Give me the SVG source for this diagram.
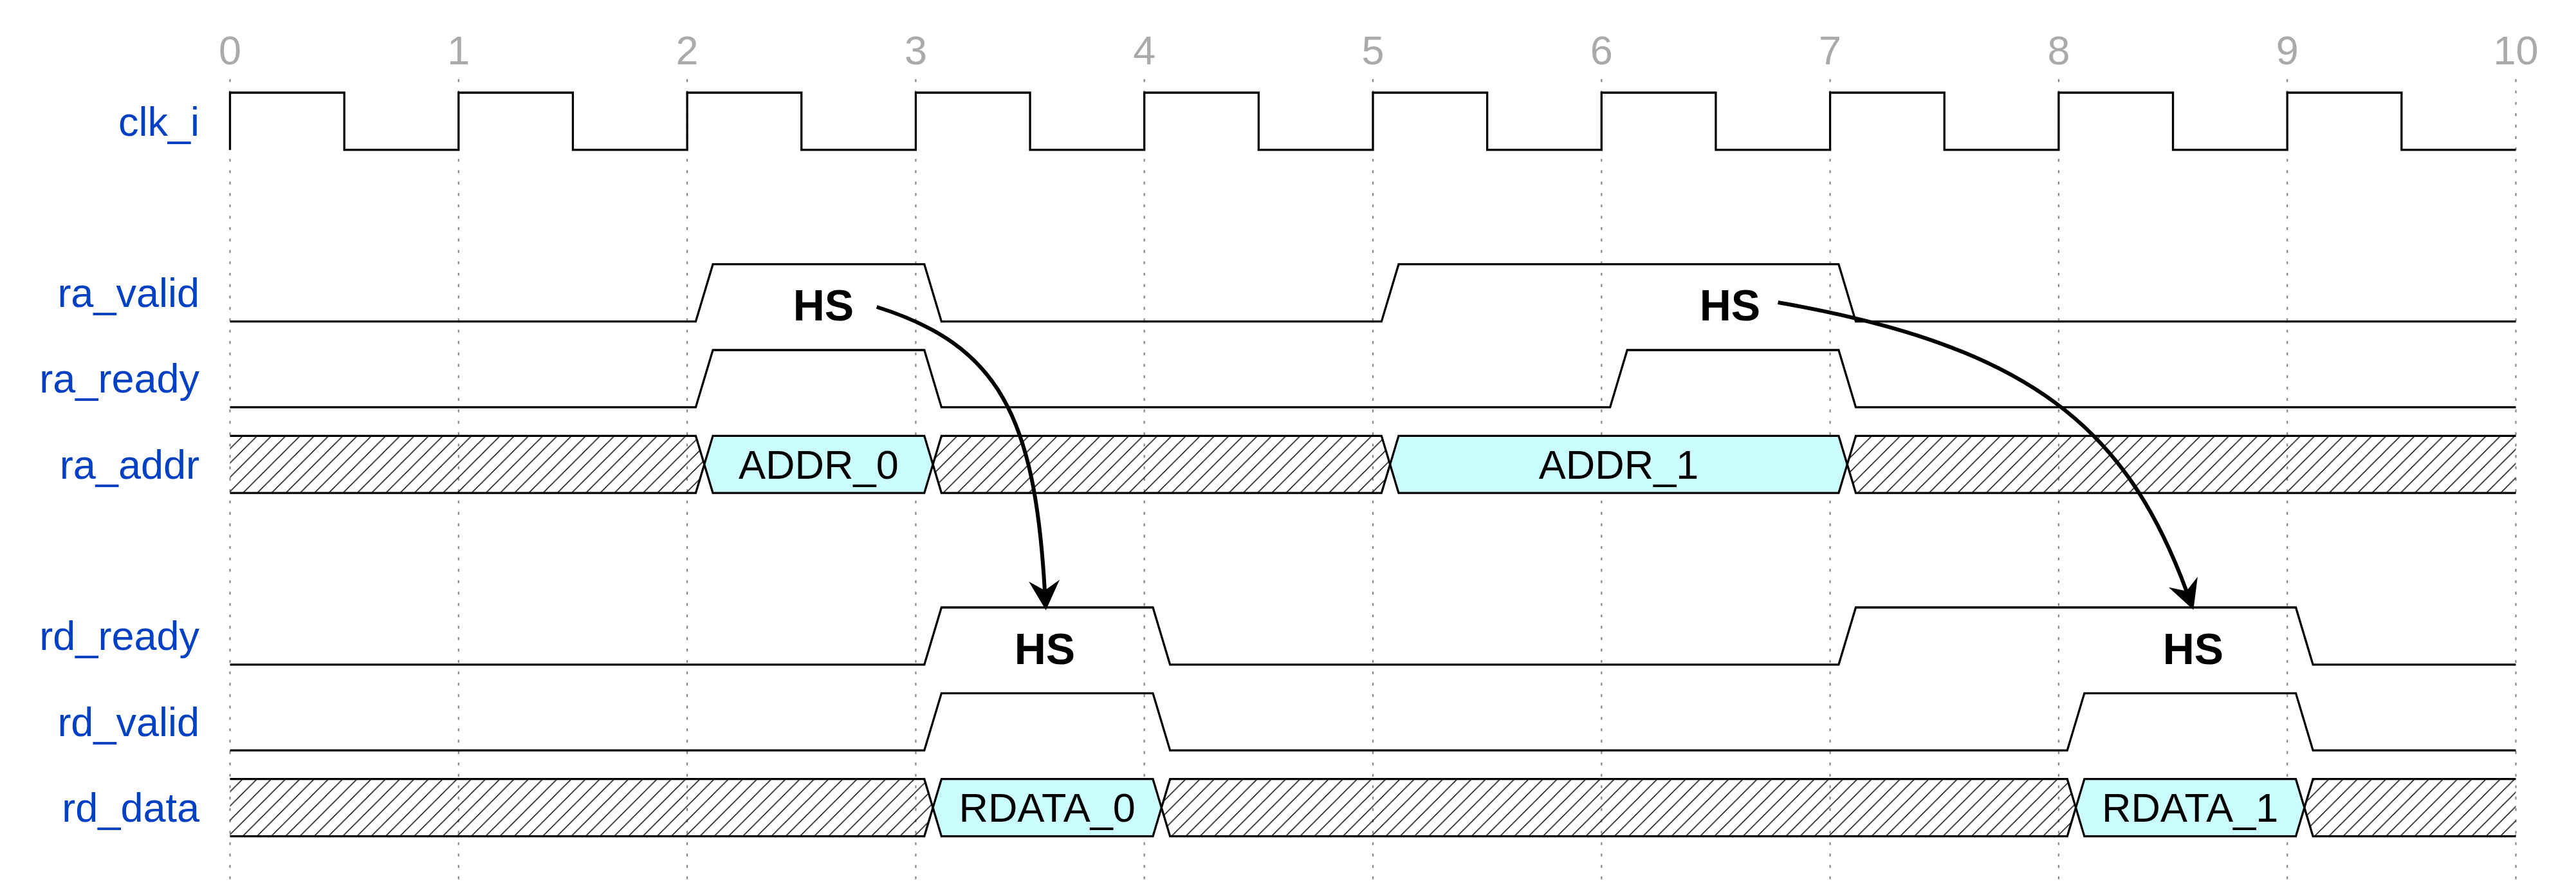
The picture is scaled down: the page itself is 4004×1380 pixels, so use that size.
<svg xmlns="http://www.w3.org/2000/svg" width="4004" height="1380" viewBox="0 0 4004 1380">
<style>
.bg{fill:#ffffff}
.grid{stroke:#888888;stroke-width:2.2;stroke-dasharray:4.4 13.3;fill:none}
.tick{font-family:"Liberation Sans",Arial,sans-serif;font-size:63px;fill:#aaaaaa;text-anchor:middle}
.name{font-family:"Liberation Sans",Arial,sans-serif;font-size:63px;fill:#0041c4;text-anchor:end}
.wave{fill:none;stroke:#000000;stroke-width:3.3;stroke-linejoin:miter}
.hatch{fill:url(#xpat);stroke:none}
.data{fill:#ccfdfe;stroke:#000000;stroke-width:3.3}
.dtext{font-family:"Liberation Sans",Arial,sans-serif;font-size:63px;fill:#000000;text-anchor:middle}
.hs{font-family:"Liberation Sans",Arial,sans-serif;font-size:68px;font-weight:bold;fill:#000000;text-anchor:middle}
.edge{fill:none;stroke:#000000;stroke-width:6}
</style>
<defs>
<pattern id="xpat" patternUnits="userSpaceOnUse" width="22.21" height="22.21" patternTransform="translate(11,0)">
<path d="M0,22.21 L22.21,0 M-11.1,11.1 L11.1,-11.1 M11.1,33.3 L33.3,11.1" stroke="#000000" stroke-width="1.5" fill="none"/>
</pattern>
<marker id="ah" viewBox="-20 -30 60 60" markerWidth="60" markerHeight="60" refX="0" refY="0" orient="auto" markerUnits="userSpaceOnUse">
<path d="M31,0 L-15,-24 L0,0 L-15,24 Z" fill="#000000"/>
</marker>
</defs>
<rect class="bg" x="0" y="0" width="4004" height="1380"/>
<g id="grid">
<path class="grid" d="M357.5,123V1368M712.8,123V1368M1068.1,123V1368M1423.4,123V1368M1778.7,123V1368M2134,123V1368M2489.3,123V1368M2844.6,123V1368M3199.9,123V1368M3555.2,123V1368M3910.5,123V1368"/>
<text class="tick" x="357.5" y="100">0</text>
<text class="tick" x="712.8" y="100">1</text>
<text class="tick" x="1068.1" y="100">2</text>
<text class="tick" x="1423.4" y="100">3</text>
<text class="tick" x="1778.7" y="100">4</text>
<text class="tick" x="2134" y="100">5</text>
<text class="tick" x="2489.3" y="100">6</text>
<text class="tick" x="2844.6" y="100">7</text>
<text class="tick" x="3199.9" y="100">8</text>
<text class="tick" x="3555.2" y="100">9</text>
<text class="tick" x="3910.5" y="100">10</text>
</g>
<g id="clk_i">
<text class="name" x="310" y="210.5">clk_i</text>
<path class="wave" d="M357.5,232.9V144H535.15V232.9H712.8V144H890.45V232.9H1068.1V144H1245.75V232.9H1423.4V144H1601.05V232.9H1778.7V144H1956.35V232.9H2134V144H2311.65V232.9H2489.3V144H2666.95V232.9H2844.6V144H3022.25V232.9H3199.9V144H3377.55V232.9H3555.2V144H3732.85V232.9H3910.5"/>
</g>
<g id="ra_valid">
<text class="name" x="310" y="477">ra_valid</text>
<path class="wave" d="M357.5,499.6H1081.42L1108.07,410.7H1436.72L1463.37,499.6H2147.32L2173.97,410.7H2857.92L2884.57,499.6H3910.5"/>
<text class="hs" x="1280" y="498">HS</text>
<text class="hs" x="2689" y="498">HS</text>
</g>
<g id="ra_ready">
<text class="name" x="310" y="610.4">ra_ready</text>
<path class="wave" d="M357.5,632.9H1081.42L1108.07,544H1436.72L1463.37,632.9H2502.62L2529.27,544H2857.92L2884.57,632.9H3910.5"/>
</g>
<g id="ra_addr">
<text class="name" x="310" y="743.7">ra_addr</text>
<polygon class="hatch" points="357.5,677.3 1081.42,677.3 1094.75,721.75 1081.42,766.2 357.5,766.2"/>
<path class="wave" d="M357.5,677.3H1081.42L1094.75,721.75L1081.42,766.2H357.5"/>
<polygon class="data" points="1094.75,721.75 1108.07,677.3 1436.72,677.3 1450.05,721.75 1436.72,766.2 1108.07,766.2"/>
<polygon class="hatch" points="1450.05,721.75 1463.37,677.3 2147.32,677.3 2160.65,721.75 2147.32,766.2 1463.37,766.2"/>
<polygon class="wave" points="1450.05,721.75 1463.37,677.3 2147.32,677.3 2160.65,721.75 2147.32,766.2 1463.37,766.2"/>
<polygon class="data" points="2160.65,721.75 2173.97,677.3 2857.92,677.3 2871.25,721.75 2857.92,766.2 2173.97,766.2"/>
<polygon class="hatch" points="2871.25,721.75 2884.57,677.3 3910.5,677.3 3910.5,766.2 2884.57,766.2"/>
<path class="wave" d="M3910.5,677.3H2884.57L2871.25,721.75L2884.57,766.2H3910.5"/>
<text class="dtext" x="1272.4" y="743.7">ADDR_0</text>
<text class="dtext" x="2516" y="743.7">ADDR_1</text>
</g>
<g id="rd_ready">
<text class="name" x="310" y="1010.4">rd_ready</text>
<path class="wave" d="M357.5,1032.9H1436.72L1463.37,944H1792.02L1818.67,1032.9H2857.92L2884.57,944H3568.52L3595.17,1032.9H3910.5"/>
<text class="hs" x="1624" y="1032">HS</text>
<text class="hs" x="3409" y="1032">HS</text>
</g>
<g id="rd_valid">
<text class="name" x="310" y="1143.7">rd_valid</text>
<path class="wave" d="M357.5,1166.2H1436.72L1463.37,1077.3H1792.02L1818.67,1166.2H3213.22L3239.87,1077.3H3568.52L3595.17,1166.2H3910.5"/>
</g>
<g id="rd_data">
<text class="name" x="310" y="1277">rd_data</text>
<polygon class="hatch" points="357.5,1210.7 1436.72,1210.7 1450.05,1255.15 1436.72,1299.6 357.5,1299.6"/>
<path class="wave" d="M357.5,1210.7H1436.72L1450.05,1255.15L1436.72,1299.6H357.5"/>
<polygon class="data" points="1450.05,1255.15 1463.37,1210.7 1792.02,1210.7 1805.35,1255.15 1792.02,1299.6 1463.37,1299.6"/>
<polygon class="hatch" points="1805.35,1255.15 1818.67,1210.7 3213.22,1210.7 3226.55,1255.15 3213.22,1299.6 1818.67,1299.6"/>
<polygon class="wave" points="1805.35,1255.15 1818.67,1210.7 3213.22,1210.7 3226.55,1255.15 3213.22,1299.6 1818.67,1299.6"/>
<polygon class="data" points="3226.55,1255.15 3239.87,1210.7 3568.52,1210.7 3581.85,1255.15 3568.52,1299.6 3239.87,1299.6"/>
<polygon class="hatch" points="3581.85,1255.15 3595.17,1210.7 3910.5,1210.7 3910.5,1299.6 3595.17,1299.6"/>
<path class="wave" d="M3910.5,1210.7H3595.17L3581.85,1255.15L3595.17,1299.6H3910.5"/>
<text class="dtext" x="1627.7" y="1277">RDATA_0</text>
<text class="dtext" x="3404.2" y="1277">RDATA_1</text>
</g>
<g id="connectors">
<path class="edge" marker-end="url(#ah)" d="M1362.7,477 C1553.9,536.7 1608.4,648.9 1623.9,917.4"/>
<path class="edge" marker-end="url(#ah)" d="M2763.6,470 C3157.6,538.6 3305.3,666.3 3398.6,918.6"/>
</g>
</svg>
